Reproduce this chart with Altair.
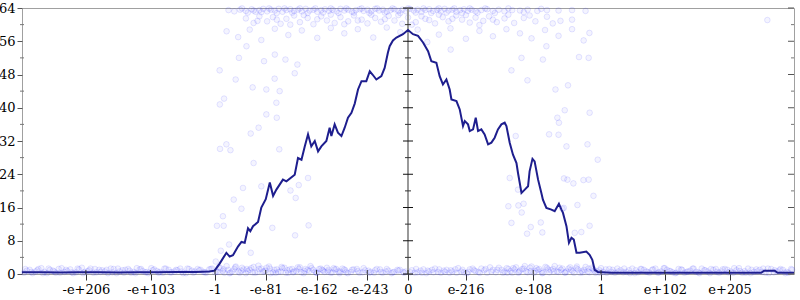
import altair as alt
import pandas as pd

# x is measured in "bit-pattern" units: 0 at zero, +-1 at +-1.0, +-2 at +-infinity
x_tick_values = [-1.669, -1.334, -1.0, -0.737, -0.474, -0.211, 0.0, 0.2986, 0.649, 1.0, 1.331, 1.666]
x_tick_labels = ["-e+206", "-e+103", "-1", "-e-81", "-e-162", "-e-243", "0", "e-216", "e-108", "1", "e+102", "e+205"]
y_major = [0, 8, 16, 24, 32, 40, 48, 56, 64]
y_minor = [4, 12, 20, 28, 36, 44, 52, 60]

line_points = [
    [-2.00, 0.4], [-1.90, 0.4], [-1.80, 0.35], [-1.70, 0.4], [-1.60, 0.4], [-1.50, 0.35], [-1.40, 0.4],
    [-1.30, 0.45], [-1.20, 0.5], [-1.10, 0.5], [-1.03, 0.6], [-1.002, 0.8], [-0.976, 2.5], [-0.941, 5.1],
    [-0.924, 4.2], [-0.907, 4.5], [-0.881, 6.6], [-0.863, 7.7], [-0.846, 7.5], [-0.829, 11.0], [-0.817, 10.3],
    [-0.803, 11.5], [-0.777, 12.5], [-0.760, 16.0], [-0.737, 18.0], [-0.716, 22.0], [-0.699, 18.8],
    [-0.682, 20.3], [-0.648, 22.7], [-0.630, 22.3], [-0.587, 23.9], [-0.570, 27.9], [-0.552, 27.5],
    [-0.535, 30.7], [-0.518, 33.6], [-0.501, 30.7], [-0.483, 32.0], [-0.466, 29.5], [-0.449, 30.7],
    [-0.423, 32.0], [-0.406, 35.2], [-0.397, 33.2], [-0.380, 36.0], [-0.363, 34.0], [-0.345, 33.2],
    [-0.328, 35.2], [-0.311, 37.6], [-0.293, 38.8], [-0.276, 41.0], [-0.259, 44.4], [-0.241, 46.4],
    [-0.216, 46.4], [-0.198, 48.8], [-0.184, 48.0], [-0.164, 46.8], [-0.138, 47.6], [-0.121, 49.6],
    [-0.104, 53.3], [-0.095, 54.8], [-0.078, 56.2], [-0.060, 56.9], [-0.026, 57.7], [0.000, 58.7],
    [0.026, 57.7], [0.052, 57.3], [0.078, 55.7], [0.104, 53.6], [0.121, 51.2], [0.147, 50.8], [0.164, 47.6],
    [0.181, 45.6], [0.199, 46.8], [0.216, 44.4], [0.225, 42.0], [0.251, 41.6], [0.268, 39.6], [0.285, 35.6],
    [0.294, 36.8], [0.311, 36.0], [0.320, 34.4], [0.337, 34.8], [0.351, 37.6], [0.363, 34.4], [0.380, 34.8],
    [0.397, 33.6], [0.415, 31.2], [0.432, 31.6], [0.449, 32.8], [0.466, 34.8], [0.484, 36.0], [0.501, 36.4],
    [0.510, 35.6], [0.527, 31.6], [0.544, 28.7], [0.562, 26.7], [0.570, 24.3], [0.588, 19.5], [0.605, 20.3],
    [0.622, 21.1], [0.630, 24.7], [0.645, 27.7], [0.656, 27.1], [0.674, 22.7], [0.691, 19.5], [0.699, 17.9],
    [0.717, 15.9], [0.743, 15.5], [0.760, 15.1], [0.782, 16.9], [0.795, 15.5], [0.803, 14.7], [0.821, 11.5],
    [0.834, 7.5], [0.847, 8.7], [0.859, 8.3], [0.873, 5.1], [0.890, 5.1], [0.924, 5.4], [0.941, 4.6],
    [0.955, 3.4], [0.967, 1.0], [0.984, 0.5], [1.05, 0.3], [1.20, 0.3], [1.40, 0.3], [1.60, 0.3], [1.75, 0.3],
    [1.83, 0.3], [1.845, 0.8], [1.90, 0.8], [1.915, 0.3], [2.00, 0.3],
]

band_points = [
    [-1.99, 0.3], [-1.96, 1.0], [-1.93, 0.6], [-1.90, 1.4], [-1.87, 0.2], [-1.84, 0.8], [-1.81, 1.2], [-1.78, 0.5],
    [-1.75, 1.1], [-1.72, 0.4], [-1.69, 1.5], [-1.66, 0.7], [-1.63, 0.3], [-1.60, 1.0], [-1.57, 0.6], [-1.54, 1.3],
    [-1.51, 0.2], [-1.48, 0.9], [-1.45, 1.2], [-1.42, 0.5], [-1.39, 1.1], [-1.36, 0.4], [-1.33, 1.4], [-1.30, 0.7],
    [-1.27, 0.3], [-1.24, 1.0], [-1.21, 0.6], [-1.18, 1.3], [-1.15, 0.2], [-1.12, 0.8], [-1.09, 1.2], [-1.06, 0.5],
    [-1.03, 1.1], [-1.00, 0.4], [-0.98, 1.6], [-0.96, 0.7], [-0.94, 1.9], [-0.92, 0.3], [-0.90, 1.2], [-0.88, 0.6],
    [-0.86, 1.5], [-0.84, 0.2], [-0.82, 1.0], [-0.80, 1.7], [-0.78, 0.5], [-0.76, 1.3], [-0.74, 0.8], [-0.72, 1.8],
    [-0.70, 0.4], [-0.68, 1.1], [-0.66, 0.6], [-0.64, 1.5], [-0.62, 0.3], [-0.60, 1.2], [-0.58, 0.7], [-0.56, 1.6],
    [-0.54, 0.2], [-0.52, 1.0], [-0.50, 1.4], [-0.48, 0.5], [-0.46, 1.2], [-0.44, 0.8], [-0.42, 1.5], [-0.40, 0.3],
    [-0.38, 1.1], [-0.36, 0.6], [-0.34, 1.3], [-0.32, 0.4], [-0.29, 1.0], [-0.26, 0.7], [-0.23, 1.4], [-0.20, 0.3],
    [-0.17, 0.9], [-0.14, 0.5], [-0.11, 1.2], [-0.08, 0.4], [-0.05, 0.8], [-0.02, 0.3], [0.02, 0.9], [0.05, 0.4],
    [0.08, 1.1], [0.11, 0.6], [0.14, 1.3], [0.17, 0.3], [0.20, 1.0], [0.23, 0.6], [0.26, 1.4], [0.29, 0.4],
    [0.32, 1.1], [0.35, 0.7], [0.38, 1.3], [0.41, 0.3], [0.44, 1.0], [0.47, 1.5], [0.50, 0.6], [0.52, 1.2],
    [0.54, 0.3], [0.56, 1.6], [0.58, 0.8], [0.60, 1.3], [0.62, 0.4], [0.64, 1.8], [0.66, 0.7], [0.68, 1.2],
    [0.70, 0.3], [0.72, 1.5], [0.74, 0.9], [0.76, 1.9], [0.78, 0.5], [0.80, 1.3], [0.82, 0.6], [0.84, 1.6],
    [0.86, 0.3], [0.88, 1.1], [0.90, 0.7], [0.92, 1.7], [0.94, 0.4], [0.96, 1.2], [0.98, 0.6], [1.00, 1.4],
    [1.03, 0.3], [1.06, 1.0], [1.09, 0.6], [1.12, 1.3], [1.15, 0.2], [1.18, 0.9], [1.21, 1.2], [1.24, 0.5],
    [1.27, 1.1], [1.30, 0.4], [1.33, 1.4], [1.36, 0.7], [1.39, 0.3], [1.42, 1.0], [1.45, 0.6], [1.48, 1.3],
    [1.51, 0.2], [1.54, 0.9], [1.57, 1.2], [1.60, 0.5], [1.63, 1.1], [1.66, 0.4], [1.69, 1.4], [1.72, 0.7],
    [1.75, 0.3], [1.78, 1.0], [1.81, 0.6], [1.84, 1.3], [1.87, 0.2], [1.90, 0.9], [1.93, 1.2], [1.96, 0.5],
    [1.99, 1.0],
]

band_points_b = [
    [-1.975, 0.8], [-1.945, 0.2], [-1.915, 1.2], [-1.885, 0.5], [-1.855, 1.0], [-1.825, 0.3], [-1.795, 1.4],
    [-1.765, 0.7], [-1.735, 0.2], [-1.705, 1.1], [-1.675, 0.5], [-1.645, 1.3], [-1.615, 0.4], [-1.585, 0.9],
    [-1.555, 0.2], [-1.525, 1.2], [-1.495, 0.6], [-1.465, 1.0], [-1.435, 0.3], [-1.405, 1.4], [-1.375, 0.7],
    [-1.345, 0.2], [-1.315, 1.1], [-1.285, 0.5], [-1.255, 1.3], [-1.225, 0.4], [-1.195, 0.9], [-1.165, 0.2],
    [-1.135, 1.2], [-1.105, 0.6], [-1.075, 1.0], [-1.045, 0.3], [-1.015, 1.3], [-0.985, 0.5], [-0.955, 1.1],
    [-0.925, 0.2], [-0.895, 1.6], [-0.865, 0.8], [-0.835, 1.2], [-0.805, 0.4], [-0.775, 2.0], [-0.745, 0.6],
    [-0.715, 1.3], [-0.685, 0.3], [-0.655, 1.7], [-0.625, 0.9], [-0.595, 0.4], [-0.565, 1.2], [-0.535, 0.7],
    [-0.505, 1.9], [-0.475, 0.3], [-0.445, 1.0], [-0.415, 0.6], [-0.385, 1.4], [-0.355, 0.2], [-0.325, 0.9],
    [-0.295, 0.5], [-0.265, 1.2], [-0.235, 0.4], [-0.205, 0.8], [-0.175, 0.3], [-0.145, 1.1], [-0.115, 0.6],
    [-0.085, 0.2], [-0.055, 1.0], [-0.025, 0.5], [0.035, 0.3], [0.065, 0.8], [0.095, 0.2], [0.125, 1.0],
    [0.155, 0.5], [0.185, 0.8], [0.215, 0.3], [0.245, 1.1], [0.275, 0.6], [0.305, 0.2], [0.335, 1.3],
    [0.365, 0.5], [0.395, 0.9], [0.425, 1.6], [0.455, 0.4], [0.485, 1.0], [0.515, 0.3], [0.545, 1.4],
    [0.575, 0.5], [0.605, 1.9], [0.635, 0.7], [0.665, 1.4], [0.695, 0.2], [0.725, 1.1], [0.755, 0.6],
    [0.785, 1.5], [0.815, 0.3], [0.845, 1.0], [0.875, 1.8], [0.905, 0.4], [0.935, 1.3], [0.965, 0.8],
    [0.995, 0.3], [1.025, 1.1], [1.055, 0.5], [1.085, 1.3], [1.115, 0.4], [1.145, 0.9], [1.175, 0.2],
    [1.205, 1.2], [1.235, 0.6], [1.265, 1.0], [1.295, 0.3], [1.325, 1.4], [1.355, 0.7], [1.385, 0.2],
    [1.415, 1.1], [1.445, 0.5], [1.475, 1.3], [1.505, 0.4], [1.535, 0.9], [1.565, 0.2], [1.595, 1.2],
    [1.625, 0.6], [1.655, 1.0], [1.685, 0.3], [1.715, 1.4], [1.745, 0.7], [1.775, 0.2], [1.805, 1.1],
    [1.835, 0.5], [1.865, 1.3], [1.895, 0.4], [1.925, 0.9], [1.955, 0.2], [1.985, 1.2],
]

band_points_c = [
    [-1.983, 1.2], [-1.952, 0.5], [-1.921, 0.9], [-1.892, 0.2], [-1.862, 1.3], [-1.833, 0.6], [-1.803, 0.3],
    [-1.772, 1.0], [-1.741, 0.4], [-1.712, 1.3], [-1.683, 0.2], [-1.652, 0.9], [-1.622, 1.2], [-1.593, 0.5],
    [-1.562, 1.0], [-1.532, 0.4], [-1.503, 1.3], [-1.472, 0.3], [-1.442, 0.8], [-1.412, 0.2], [-1.383, 1.2],
    [-1.352, 0.5], [-1.322, 0.9], [-1.292, 0.3], [-1.262, 1.3], [-1.233, 0.4], [-1.202, 1.0], [-1.172, 0.6],
    [-1.143, 1.3], [-1.112, 0.3], [-1.082, 0.9], [-1.052, 0.4], [-1.022, 1.2], [-0.993, 0.6], [-0.972, 1.4],
    [-0.951, 0.3], [-0.932, 1.0], [-0.912, 0.6], [-0.892, 1.8], [-0.872, 0.3], [-0.852, 1.1], [-0.831, 0.7],
    [-0.812, 1.4], [-0.792, 0.3], [-0.771, 1.2], [-0.752, 0.6], [-0.732, 1.5], [-0.712, 0.2], [-0.692, 1.0],
    [-0.672, 0.5], [-0.651, 1.4], [-0.632, 0.3], [-0.612, 1.1], [-0.592, 0.6], [-0.571, 1.6], [-0.552, 0.4],
    [-0.532, 1.2], [-0.512, 0.7], [-0.491, 1.0], [-0.472, 0.3], [-0.452, 1.3], [-0.432, 0.5], [-0.412, 1.0],
    [-0.392, 0.4], [-0.372, 1.2], [-0.352, 0.6], [-0.331, 1.1], [-0.312, 0.2], [-0.282, 1.1], [-0.252, 0.3],
    [-0.222, 0.9], [-0.192, 0.5], [-0.162, 1.2], [-0.132, 0.3], [-0.102, 0.8], [-0.072, 0.5], [-0.042, 1.0],
    [-0.012, 0.6], [0.012, 0.4], [0.042, 1.2], [0.072, 0.3], [0.102, 0.8], [0.132, 0.4], [0.162, 1.1],
    [0.192, 0.5], [0.222, 0.9], [0.252, 0.3], [0.282, 1.0], [0.312, 0.5], [0.342, 0.9], [0.372, 0.3],
    [0.402, 1.2], [0.432, 0.6], [0.462, 1.0], [0.492, 0.3], [0.512, 1.4], [0.532, 0.7], [0.552, 1.1],
    [0.572, 0.3], [0.592, 1.2], [0.612, 0.6], [0.632, 1.5], [0.652, 0.3], [0.672, 1.0], [0.692, 0.6],
    [0.712, 1.7], [0.732, 0.4], [0.752, 1.2], [0.772, 0.6], [0.792, 1.0], [0.812, 0.4], [0.832, 1.3],
    [0.852, 0.7], [0.872, 1.4], [0.892, 0.3], [0.912, 1.0], [0.932, 0.6], [0.952, 1.5], [0.972, 0.3],
    [0.992, 0.9], [1.012, 0.5], [1.043, 1.2], [1.072, 0.3], [1.102, 0.9], [1.132, 0.5], [1.162, 1.3],
    [1.192, 0.4], [1.222, 1.0], [1.252, 0.3], [1.282, 1.3], [1.312, 0.6], [1.342, 1.0], [1.372, 0.4],
    [1.402, 1.2], [1.432, 0.3], [1.462, 0.8], [1.492, 0.5], [1.522, 1.3], [1.552, 0.6], [1.582, 1.0],
    [1.612, 0.3], [1.642, 1.2], [1.672, 0.6], [1.702, 0.9], [1.732, 0.3], [1.762, 1.3], [1.792, 0.5],
    [1.822, 1.0], [1.852, 0.3], [1.882, 1.2], [1.912, 0.6], [1.942, 1.0], [1.972, 0.3],
]

top_points = [
    [-0.93, 63.5], [-0.90, 63.2], [-0.87, 63.6], [-0.84, 63.3], [-0.81, 63.7], [-0.79, 63.1], [-0.77, 63.5],
    [-0.75, 63.8], [-0.73, 63.2], [-0.71, 63.6], [-0.69, 63.4], [-0.67, 63.8], [-0.65, 63.1], [-0.63, 63.5],
    [-0.61, 63.7], [-0.59, 63.3], [-0.57, 63.6], [-0.55, 63.2], [-0.53, 63.8], [-0.51, 63.4], [-0.49, 63.6],
    [-0.47, 63.1], [-0.45, 63.5], [-0.43, 63.7], [-0.41, 63.3], [-0.39, 63.6], [-0.37, 63.2], [-0.35, 63.8],
    [-0.33, 63.4], [-0.31, 63.6], [-0.29, 63.1], [-0.27, 63.5], [-0.25, 63.7], [-0.23, 63.3], [-0.21, 63.6],
    [-0.19, 63.2], [-0.17, 63.8], [-0.15, 63.4], [-0.13, 63.6], [-0.11, 63.1], [-0.09, 63.5], [-0.07, 63.7],
    [-0.05, 63.3], [-0.03, 63.6], [-0.01, 63.2], [0.01, 63.8], [0.03, 63.4], [0.05, 63.6], [0.07, 63.1],
    [0.09, 63.5], [0.11, 63.7], [0.13, 63.3], [0.15, 63.6], [0.17, 63.2], [0.19, 63.8], [0.21, 63.4],
    [0.23, 63.6], [0.25, 63.1], [0.27, 63.5], [0.29, 63.7], [0.31, 63.3], [0.33, 63.6], [0.35, 63.2],
    [0.38, 63.5], [0.41, 63.7], [0.44, 63.3], [0.47, 63.6], [0.50, 63.2], [0.54, 63.5], [0.58, 63.4],
    [0.62, 63.6], [0.67, 63.3], [0.72, 63.5], [0.78, 63.4], [0.85, 63.5], [0.92, 63.3],
    [-0.86, 63.9], [-0.83, 62.9], [-0.80, 63.4], [-0.76, 63.0], [-0.72, 63.9], [-0.68, 62.8], [-0.64, 63.9],
    [-0.60, 62.9], [-0.56, 63.9], [-0.52, 62.8], [-0.48, 63.9], [-0.44, 62.9], [-0.40, 63.9], [-0.36, 62.8],
    [-0.32, 63.9], [-0.28, 62.9], [-0.24, 63.9], [-0.20, 62.8], [-0.16, 63.9], [-0.12, 62.9], [-0.08, 63.9],
    [-0.04, 62.8], [0.00, 63.9], [0.04, 62.9], [0.08, 63.9], [0.12, 62.8], [0.16, 63.9], [0.20, 62.9],
    [0.24, 63.9], [0.28, 62.8], [0.32, 63.9], [0.36, 62.9], [0.40, 63.9], [0.45, 62.8], [0.52, 63.9],
    [0.60, 63.0], [0.69, 63.8],
    [-0.84, 61.5], [-0.80, 60.4], [-0.77, 62.0], [-0.73, 60.8], [-0.70, 61.8], [-0.66, 60.2], [-0.63, 61.4],
    [-0.59, 62.2], [-0.56, 60.6], [-0.52, 61.6], [-0.49, 60.1], [-0.45, 62.0], [-0.42, 61.0], [-0.38, 60.4],
    [-0.35, 61.8], [-0.31, 60.8], [-0.28, 62.2], [-0.24, 61.2], [-0.21, 60.3], [-0.17, 61.6], [-0.14, 60.7],
    [-0.10, 62.1], [-0.07, 61.0], [-0.03, 60.2], [0.00, 61.7], [0.04, 60.6], [0.07, 62.0], [0.11, 61.1],
    [0.14, 60.3], [0.18, 61.8], [0.21, 60.8], [0.25, 62.2], [0.28, 61.2], [0.32, 60.5], [0.35, 61.7],
    [0.39, 60.9], [0.42, 62.0], [0.46, 60.6], [0.50, 61.5], [0.55, 60.4], [0.60, 61.6], [0.66, 60.8],
    [0.72, 61.9], [0.79, 60.9], [0.85, 61.2],
    [-0.78, 60.9], [-0.68, 61.2], [-0.61, 60.0], [-0.54, 62.3], [-0.47, 61.3], [-0.40, 62.4], [-0.33, 60.1],
    [-0.26, 61.0], [-0.19, 62.4], [-0.12, 61.3], [-0.05, 62.3], [0.02, 60.0], [0.09, 61.4], [0.16, 62.4],
    [0.23, 61.4], [0.30, 62.3], [0.37, 59.9], [0.44, 61.2], [0.52, 62.4], [0.63, 62.2], [0.75, 60.3],
    [-0.94, 58.4], [-0.88, 57.0], [-0.82, 58.8], [-0.76, 56.3], [-0.69, 59.0], [-0.62, 57.5], [-0.55, 58.6],
    [-0.47, 56.8], [-0.40, 59.2], [-0.33, 57.9], [-0.26, 58.9], [-0.18, 56.9], [-0.11, 59.3], [-0.04, 58.2],
    [0.05, 58.8], [0.10, 55.8], [0.16, 57.6], [0.22, 59.1], [0.30, 56.6], [0.37, 58.5], [0.44, 57.2],
    [0.51, 58.9], [0.58, 57.9], [0.64, 56.7], [0.71, 58.7], [0.78, 57.3], [0.85, 58.9], [0.91, 56.2],
    [0.94, 58.0],
]

mid_points = [
    [-0.976, 49.0], [-0.893, 46.8], [-0.953, 42.2], [-0.805, 44.9], [-0.734, 44.4], [-0.691, 47.0],
    [-0.665, 44.0], [-0.746, 51.2], [-0.635, 51.6], [-0.573, 50.4], [-0.690, 52.8], [-0.876, 52.0],
    [-0.837, 54.8], [-0.587, 48.3], [-0.975, 40.8], [-0.682, 41.2], [-0.734, 38.4], [-0.680, 37.6],
    [-0.815, 33.8], [-0.774, 35.2], [-0.974, 30.1], [-0.941, 31.2], [-0.920, 29.8], [-0.667, 30.0],
    [-0.800, 26.7], [-0.855, 20.7], [-0.760, 21.1], [-0.903, 17.9], [-0.863, 15.7], [-0.959, 13.9],
    [-0.990, 11.6], [-0.955, 11.6], [-0.703, 11.1], [-0.518, 23.1], [-0.566, 21.4], [-0.609, 20.1],
    [-0.582, 18.3], [-0.515, 11.7], [-0.585, 9.3], [-0.927, 7.1], [-0.970, 5.6], [-0.815, 5.1],
    [-0.996, 3.0],
    [0.812, 39.4], [0.941, 38.8], [0.774, 37.6], [0.782, 36.4], [0.558, 33.2], [0.731, 33.6], [0.780, 33.5],
    [0.821, 30.7], [0.930, 31.2], [0.983, 27.5], [0.527, 23.1], [0.808, 23.0], [0.826, 22.7], [0.857, 21.8],
    [0.909, 22.6], [0.936, 22.7], [0.961, 18.8], [0.570, 20.3], [0.520, 16.3], [0.572, 16.5], [0.599, 16.9],
    [0.589, 14.8], [0.800, 15.7], [0.878, 16.6], [0.536, 12.3], [0.636, 11.3], [0.688, 12.4], [0.617, 9.7],
    [0.696, 10.0], [0.898, 10.1], [0.941, 11.6], [0.221, 54.0], [0.536, 49.0], [0.619, 46.6], [0.764, 44.4],
    [0.829, 45.4], [0.588, 52.0], [0.699, 51.6], [0.886, 52.2], [0.936, 52.0], [0.717, 54.8], [1.862, 61.1],
    [0.864, 9.9], [0.807, 15.9],
]

X_DOMAIN = [-2.0, 2.0]
Y_DOMAIN = [0, 64]
FONT = "DejaVu Serif"

label_expr = " : ".join(
    f"abs(datum.value - ({v})) < 0.0005 ? '{l}'" for v, l in zip(x_tick_values, x_tick_labels)
) + " : ''"

xs = alt.Scale(domain=X_DOMAIN, nice=False, zero=False)
ys = alt.Scale(domain=Y_DOMAIN, nice=False, zero=False)
x_axis = alt.Axis(
    values=x_tick_values, labelExpr=label_expr, title="", grid=False, domain=False, tickSize=6,
    tickColor="#333333", labelPadding=3, labelFont=FONT, labelFontSize=13, labelColor="#000000",
    labelOverlap=False, labelFlush=False, labelBound=False,
)
y_axis = alt.Axis(
    values=y_major, title="", grid=False, domain=False, tickSize=5, tickColor="#555555", labelPadding=2,
    labelFont=FONT, labelFontSize=13, labelColor="#000000", labelOverlap=False, labelFlush=False,
    labelBound=False,
)

pts_df = pd.DataFrame(band_points + band_points_b + band_points_c + top_points + mid_points, columns=["u", "v"])
line_df = pd.DataFrame(line_points, columns=["u", "v"])
major_df = pd.DataFrame({"v": y_major})
minor_df = pd.DataFrame({"v": y_minor})
xt_df = pd.DataFrame({"u": x_tick_values})

XU = alt.X("u:Q", scale=xs, axis=x_axis)
YV = alt.Y("v:Q", scale=ys, axis=y_axis)
XD0 = alt.XDatum(0, scale=xs, axis=x_axis)
XDL = alt.XDatum(-2, scale=xs, axis=x_axis)
XDR = alt.XDatum(2, scale=xs, axis=x_axis)
YD0 = alt.YDatum(0, scale=ys, axis=y_axis)

points = alt.Chart(pts_df).mark_circle(
    size=32, fill="#3030ff", fillOpacity=0.05, stroke="#3030ff", strokeOpacity=0.12, strokeWidth=1
).encode(x=XU, y=YV)

line = alt.Chart(line_df).mark_line(color="#1e1e8e", strokeWidth=2).encode(x=XU, y=YV)

center_line = alt.Chart(major_df).mark_rule(color="#999999", strokeWidth=1).encode(
    x=XD0, y=YD0, y2=alt.Y2Datum(64)
)
center_major = alt.Chart(major_df).mark_rule(color="#111111", xOffset=-5, x2Offset=5).encode(
    x=XD0, x2=alt.X2Datum(0), y=YV
)
center_minor = alt.Chart(minor_df).mark_rule(color="#333333", xOffset=-3, x2Offset=3).encode(
    x=XD0, x2=alt.X2Datum(0), y=YV
)
left_minor = alt.Chart(minor_df).mark_rule(color="#777777", xOffset=-2, x2Offset=2).encode(
    x=XDL, x2=alt.X2Datum(-2), y=YV
)
right_major = alt.Chart(major_df).mark_rule(color="#555555", xOffset=-6, x2Offset=0).encode(
    x=XDR, x2=alt.X2Datum(2), y=YV
)
right_minor = alt.Chart(minor_df).mark_rule(color="#777777", xOffset=-3, x2Offset=0).encode(
    x=XDR, x2=alt.X2Datum(2), y=YV
)
bottom_inner = alt.Chart(xt_df).mark_rule(color="#333333", yOffset=-4, y2Offset=0).encode(
    x=XU, y=YD0, y2=alt.Y2Datum(0)
)

chart = alt.layer(
    points, center_line, line, center_major, center_minor, left_minor, right_major, right_minor, bottom_inner
).properties(
    width=772,
    height=266,
    background="#ffffff",
    autosize=alt.AutoSizeParams(type="none"),
    padding={"left": 22, "top": 8, "right": 6, "bottom": 26},
).configure_view(
    stroke="#a0a0a0", strokeWidth=1
)

chart.save("out.html", embed_options={"renderer": "svg", "actions": False})
